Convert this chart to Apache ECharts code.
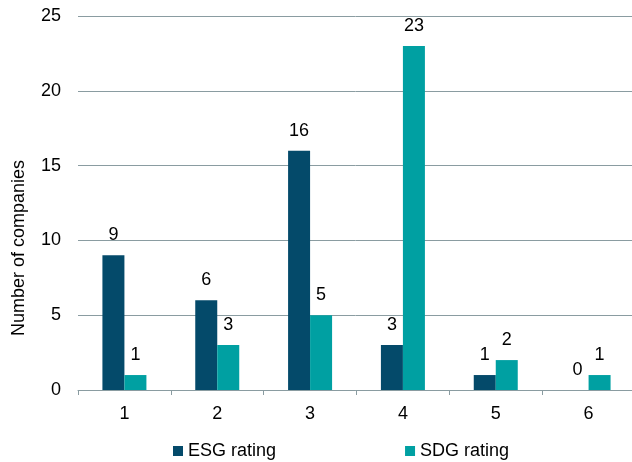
<!DOCTYPE html>
<html>
<head>
<meta charset="utf-8">
<script src="https://cdn.jsdelivr.net/npm/echarts@6/dist/echarts.min.js"></script>
<style>
html,body{margin:0;padding:0;background:#fff;}
#c{width:632px;height:462px;}
</style>
</head>
<body>
<div id="c"></div>
<script>
var categories = ['1', '2', '3', '4', '5', '6'];
var esgValues = [9, 6, 16, 3, 1, 0];
var sdgValues = [1, 3, 5, 23, 2, 1];
var yTicks = { min: 0, max: 25, interval: 5 };
var seriesNames = ['ESG rating', 'SDG rating'];
var yAxisTitle = 'Number of companies';

var FONT = '"Liberation Sans", Arial, sans-serif';
var chart = echarts.init(document.getElementById('c'), null, { renderer: 'canvas' });
var labelStyle = { show: true, position: 'top', distance: 11, color: '#000', fontSize: 18, fontFamily: FONT };
chart.setOption({
  animation: false,
  backgroundColor: '#fff',
  grid: { left: 78, right: -3, top: 16, bottom: 72, containLabel: false, outerBoundsMode: 'none' },
  legend: {
    data: seriesNames,
    left: 168,
    top: 437,
    icon: 'rect',
    itemWidth: 10,
    itemHeight: 10,
    itemGap: 129,
    textStyle: { color: '#000', fontSize: 18, fontFamily: FONT }
  },
  graphic: [{
    type: 'text',
    x: 19,
    y: 248,
    rotation: Math.PI / 2,
    style: {
      text: yAxisTitle,
      fill: '#000',
      font: '18px ' + FONT,
      textAlign: 'center',
      textVerticalAlign: 'middle'
    }
  }],
  xAxis: {
    type: 'category',
    data: categories,
    axisLine: { lineStyle: { color: '#8A9CA1', width: 1 } },
    axisTick: { show: true, length: 5, lineStyle: { color: '#8A9CA1' } },
    axisLabel: { color: '#000', fontSize: 18, fontFamily: FONT, margin: 15 }
  },
  yAxis: {
    type: 'value',
    min: yTicks.min,
    max: yTicks.max,
    interval: yTicks.interval,
    axisLine: { show: false },
    axisTick: { show: false },
    axisLabel: { color: '#000', fontSize: 18, fontFamily: FONT, margin: 17 },
    splitLine: { lineStyle: { color: '#8A9CA1', width: 1 } }
  },
  series: [
    {
      name: seriesNames[0],
      type: 'bar',
      data: esgValues,
      barWidth: 22,
      barGap: '0%',
      itemStyle: { color: '#044A6A' },
      label: labelStyle
    },
    {
      name: seriesNames[1],
      type: 'bar',
      data: sdgValues,
      barWidth: 22,
      barGap: '0%',
      itemStyle: { color: '#00A0A2' },
      label: labelStyle
    }
  ]
});
</script>
</body>
</html>
